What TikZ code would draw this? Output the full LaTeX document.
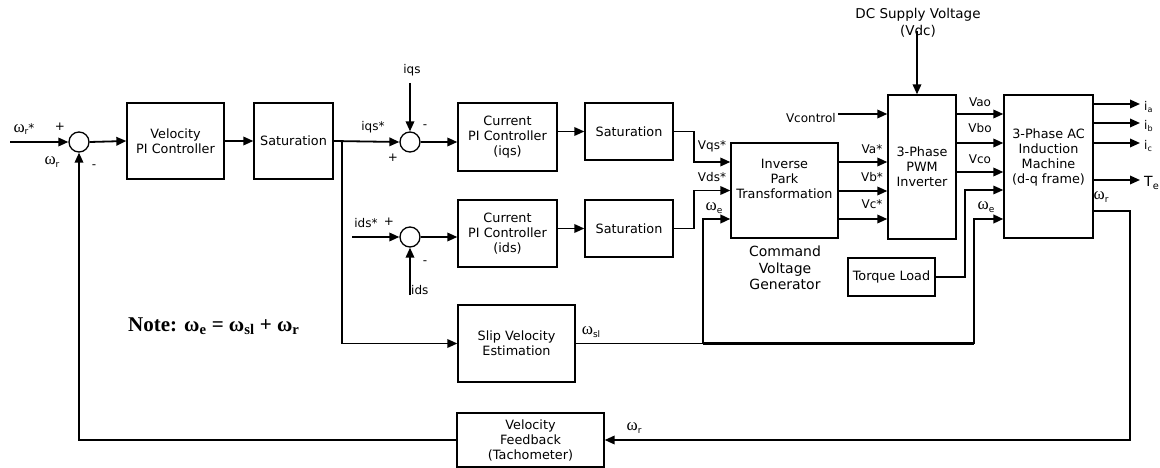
\documentclass[tikz,border=0pt]{standalone}
\usepackage{fontspec}
\setmainfont{DejaVu Sans}
\newfontfamily\notefont{Liberation Serif}
\newcommand{\omg}[1]{{\notefont\fontsize{17}{17}\selectfont ω}\raisebox{-0.4ex}{\fontsize{9}{10}\selectfont #1}}
\usetikzlibrary{arrows.meta,calc}
\begin{document}
\begin{tikzpicture}[x=1pt,y=-1pt,
  blk/.style={draw, line width=1.3pt, inner sep=0pt, align=center, font=\fontsize{12.8}{15}\selectfont},
  sumc/.style={draw, circle, line width=1.3pt, minimum size=20pt, inner sep=0pt},
  arr/.style={line width=1.8pt, -{Triangle[length=10pt,width=8.5pt]}},
  ln/.style={line width=1.6pt},
  thk/.style={line width=3pt},
  lbl/.style={font=\fontsize{12}{14}\selectfont, inner sep=0pt},
  wlbl/.style={font=\fontsize{12}{14}\selectfont, inner sep=0pt},
  notestyle/.style={font=\notefont\bfseries\fontsize{21}{24}\selectfont, inner sep=0pt},
]
\fill[white] (0,0) rectangle (1160,468);
\useasboundingbox (0,0) rectangle (1160,468);

% blocks
\node[blk, minimum width=97pt, minimum height=76pt] (vpi) at (175.5,141) {Velocity\\PI Controller};
\node[blk, minimum width=79pt, minimum height=76pt] (sat1) at (293.5,141) {Saturation};
\node[blk, minimum width=99pt, minimum height=68pt] (cpiq) at (507.5,137) {Current\\PI Controller\\(iqs)};
\node[blk, minimum width=88pt, minimum height=57pt] (sat2) at (629,131.5) {Saturation};
\node[blk, minimum width=99pt, minimum height=67pt] (cpid) at (507.5,233.5) {Current\\PI Controller\\(ids)};
\node[blk, minimum width=88pt, minimum height=57pt] (sat3) at (629,228.5) {Saturation};
\node[blk, minimum width=107pt, minimum height=95pt] (ipt) at (784.5,190.5) {Inverse\\Park\\Transformation\\[8pt]};
\node[blk, minimum width=68pt, minimum height=144pt] (inv) at (922,167) {3-Phase\\PWM\\Inverter};
\node[blk, minimum width=89pt, minimum height=143pt] (mach) at (1048.5,166.5) {3-Phase AC\\Induction\\Machine\\(d-q frame)\\[6pt]};
\node[blk, minimum width=87pt, minimum height=38pt] (tl) at (891.5,277) {Torque Load};
\node[blk, minimum width=117pt, minimum height=77pt] (slip) at (516.5,343.5) {Slip Velocity\\Estimation};
\node[blk, minimum width=147pt, minimum height=54pt] (vfb) at (530.5,440) {Velocity\\Feedback\\(Tachometer)};

% summing junctions
\node[sumc] (s1) at (79,142) {};
\node[sumc] (s2) at (410,142) {};
\node[sumc] (s3) at (410,237) {};

% free ends
\coordinate (in) at (10,142);
\coordinate (br) at (342,142);
\coordinate (iqsin) at (410,83);
\coordinate (idsin) at (352,237);
\coordinate (idsfb) at (410,295);
\coordinate (vc) at (838,114);
\coordinate (dc) at (917,31);
\coordinate (wsl) at (703,343.5);
\coordinate (wsl2) at (974,343.5);
\coordinate (tlc) at (965,277);
\coordinate (wrc) at (1130,211);
\coordinate (ia) at (1140,104);
\coordinate (ib) at (1140,123);
\coordinate (ic) at (1140,143);
\coordinate (te) at (1140,180);

% connectors
\draw[arr] (in) -- (s1.west);
\draw[arr] (s1.east) -- (vpi.west);
\draw[arr] (vpi.east) -- (sat1.west);
\draw[arr] (sat1.east) -- (s2.west);
\draw[arr] (br) |- (slip.west);
\draw[arr] (iqsin) -- (s2.north);
\draw[arr] (s2.east) -- (s2.east -| cpiq.west);
\draw[arr] (cpiq.east |- sat2.west) -- (sat2.west);
\draw[arr] (sat2.east) -- ++(20,0) |- (ipt.west |- 0,162);
\draw[arr] (idsin) -- (s3.west);
\draw[arr] (idsfb) -- (s3.south);
\draw[arr] (s3.east) -- (s3.east -| cpid.west);
\draw[arr] (cpid.east |- sat3.west) -- (sat3.west);
\draw[arr] (sat3.east) -- ++(20,0) |- (ipt.west);
\draw[arr] (ipt.east |- 0,162) -- (inv.west |- 0,162);
\draw[arr] (ipt.east |- 0,191) -- (inv.west |- 0,191);
\draw[arr] (ipt.east |- 0,219) -- (inv.west |- 0,219);
\draw[arr] (vc) -- (inv.west |- vc);
\draw[arr] (dc) -- (inv.north -| dc);
\draw[arr] (inv.east |- 0,114) -- (mach.west |- 0,114);
\draw[arr] (inv.east |- 0,143) -- (mach.west |- 0,143);
\draw[arr] (inv.east |- 0,172) -- (mach.west |- 0,172);
\draw[arr] (mach.east |- ia) -- (ia);
\draw[arr] (mach.east |- ib) -- (ib);
\draw[arr] (mach.east |- ic) -- (ic);
\draw[arr] (mach.east |- te) -- (te);
\draw[arr, line width=1.5pt] (tl.east) -- (tlc) |- (mach.west |- 0,190);
\draw[ln] (slip.east) -- (wsl);
\draw[thk] (wsl) -- (wsl2);
\draw[arr, line width=2.4pt] (wsl) |- (ipt.west |- 0,219);
\draw[arr, line width=2.4pt] (wsl2) |- (mach.west |- 0,219);
\draw[arr] (mach.east |- wrc) -- (wrc) |- (vfb.east);
\draw[arr] (vfb.west) -| (s1.south);

% labels
\node[wlbl] at (24,129) {\omg{r}*};
\node[lbl] at (60,127) {+};
\node[wlbl] at (52,162) {\omg{r}};
\node[lbl] at (94,167) {-};
\node[lbl] at (373,127) {iqs*};
\node[lbl] at (393,158) {+};
\node[lbl] at (412,70) {iqs};
\node[lbl] at (425,127) {-};
\node[lbl] at (366,223) {ids*};
\node[lbl] at (389,222) {+};
\node[lbl] at (425,263) {-};
\node[lbl, anchor=west] at (411,290) {ids};
\node[lbl] at (712,146) {Vqs*};
\node[lbl] at (712,177) {Vds*};
\node[wlbl] at (714,208) {\omg{e}};
\node[lbl] at (872,149) {Va*};
\node[lbl] at (872,177) {Vb*};
\node[lbl] at (872,204) {Vc*};
\node[lbl, anchor=east] at (836,118) {Vcontrol};
\node[font=\fontsize{13.5}{17}\selectfont, align=center, inner sep=0pt] at (918,23) {DC Supply Voltage\\(Vdc)};
\node[lbl] at (980,102) {Vao};
\node[lbl] at (980,128) {Vbo};
\node[lbl] at (980,159) {Vco};
\node[wlbl] at (986,207) {\omg{e}};
\node[wlbl] at (1101,197) {\omg{r}};
\node[lbl, anchor=west] at (1144,107) {i\textsubscript{a}};
\node[lbl, anchor=west] at (1144,126) {i\textsubscript{b}};
\node[lbl, anchor=west] at (1144,146) {i\textsubscript{c}};
\node[lbl, anchor=west, font=\fontsize{14}{16}\selectfont] at (1144,183) {T\textsubscript{e}};
\node[wlbl] at (591,332) {\omg{sl}};
\node[wlbl] at (634,428) {\omg{r}};
\node[font=\fontsize{14}{16.5}\selectfont, align=center, inner sep=0pt] at (785,268) {Command\\Voltage\\Generator};
\node[notestyle, anchor=west] (note) at (128,326) {Note: ω\textsubscript{e} = ω\textsubscript{sl} + ω\textsubscript{r}};
\end{tikzpicture}
\end{document}
